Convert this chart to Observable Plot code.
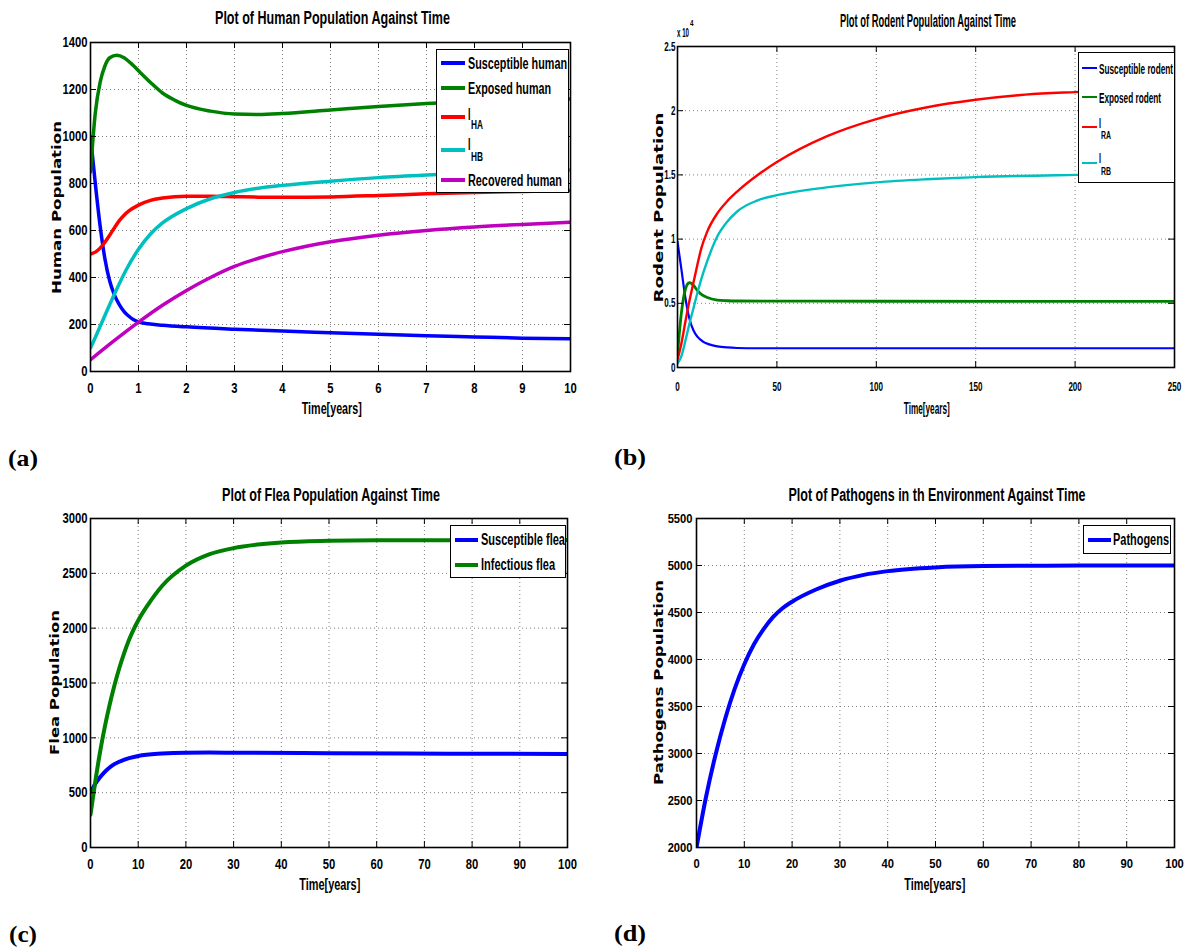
<!DOCTYPE html>
<html><head><meta charset="utf-8">
<script src="https://cdn.jsdelivr.net/npm/d3@7"></script>
<script src="https://cdn.jsdelivr.net/npm/@observablehq/plot@0.6"></script>
<style>
body{margin:0;background:#fff;}
#fig{position:relative;width:1186px;height:947px;overflow:hidden;background:#fff;}
.panel{position:absolute;}
.t{position:absolute;left:0;top:0;white-space:nowrap;line-height:1;color:#000;}
.lg{position:absolute;background:#fff;border:1px solid #000;box-sizing:border-box;}
.sw{position:absolute;}
</style></head><body><div id="fig"></div>
<script>
// ---------- (a) Human population, time in years ----------
const humanXTicks = [0,1,2,3,4,5,6,7,8,9,10];
const humanYTicks = [0,200,400,600,800,1000,1200,1400];
const susceptibleHuman = [[0,1000],[0.1,800],[0.2,620],[0.3,480],[0.4,385],[0.5,325],[0.6,285],[0.7,255],[0.8,235],[0.9,220],[1.0,211],[1.2,203],[1.5,197],[2,190],[3,180],[4,172],[5,165],[6,158],[7,152],[8,147],[9,142],[10,139]];
const exposedHuman = [[0,850],[0.1,1100],[0.2,1230],[0.3,1300],[0.4,1335],[0.55,1346],[0.7,1335],[0.85,1310],[1.0,1280],[1.25,1230],[1.5,1185],[1.75,1155],[2.0,1132],[2.5,1108],[3.0,1096],[3.5,1094],[4,1098],[5,1113],[6,1128],[7,1140],[8,1149],[9,1155],[10,1160]];
const iHA = [[0,500],[0.1,508],[0.2,525],[0.3,550],[0.4,580],[0.5,612],[0.6,642],[0.7,665],[0.8,683],[1.0,708],[1.25,728],[1.5,738],[2,746],[2.5,746],[3,744],[3.5,742],[4,741],[5,743],[6,749],[7,756],[8,762],[9,766],[10,770]];
const iHB = [[0,100],[0.1,145],[0.25,215],[0.5,330],[0.75,435],[1.0,520],[1.25,585],[1.5,632],[2,693],[2.5,735],[3,762],[3.5,780],[4,792],[5,810],[6,825],[7,836],[8,845],[9,851],[10,857]];
const recoveredHuman = [[0,50],[0.5,132],[1.0,210],[1.5,282],[2,345],[2.5,400],[3,447],[3.5,482],[4,510],[4.5,533],[5,552],[6,580],[7,600],[8,615],[9,626],[10,635]];

// ---------- (b) Rodent population ----------
const rodentXTicks = [0,50,100,150,200,250];
const rodentYTicks = [0,5000,10000,15000,20000,25000];
const susceptibleRodent = [[0,9800],[2,7600],[4,5400],[5,4500],[6,3800],[8,2900],[10,2400],[13,2000],[16,1800],[20,1650],[25,1560],[30,1520],[40,1500],[100,1500],[250,1500]];
const exposedRodent = [[0,1000],[1,2800],[2,4300],[3,5400],[4,6100],[5,6500],[6,6600],[7,6550],[8,6400],[10,6000],[12,5700],[15,5450],[20,5250],[25,5200],[30,5180],[100,5160],[250,5150]];
const iRA = [[0,600],[2,1900],[4,3600],[6,5200],[8,6600],[10,8000],[12,9300],[15,10600],[20,12000],[25,12950],[30,13700],[40,14950],[50,16000],[75,18000],[100,19350],[125,20250],[150,20850],[175,21250],[200,21450],[250,21700]];
const iRB = [[0,300],[2,900],[4,2100],[6,3400],[8,4600],[10,5800],[12,6900],[15,8300],[20,10200],[25,11350],[30,12150],[40,13000],[50,13420],[75,14030],[100,14420],[125,14660],[150,14830],[200,15000],[250,15100]];

// ---------- (c) Flea population ----------
const fleaXTicks = [0,10,20,30,40,50,60,70,80,90,100];
const fleaYTicks = [0,500,1000,1500,2000,2500,3000];
const susceptibleFlea = [[0,500],[1,580],[2,640],[3,690],[4,730],[5,760],[7,800],[10,835],[15,857],[20,865],[25,866],[30,864],[50,860],[75,856],[100,852]];
const infectiousFlea = [[0,300],[1,600],[2,870],[3,1100],[4,1300],[5,1475],[6,1630],[7,1765],[8,1885],[9,1985],[10,2070],[12,2210],[15,2385],[20,2570],[25,2675],[30,2730],[35,2762],[40,2782],[50,2797],[60,2802],[100,2803]];

// ---------- (d) Pathogens ----------
const pathXTicks = [0,10,20,30,40,50,60,70,80,90,100];
const pathYTicks = [2000,2500,3000,3500,4000,4500,5000,5500];
const pathogens = [[0,2000],[2,2540],[4,2990],[6,3370],[8,3690],[10,3950],[12,4160],[14,4320],[16,4450],[18,4545],[20,4615],[25,4745],[30,4838],[35,4900],[40,4940],[50,4980],[60,4994],[80,4999],[100,5000]];

const C = {blue:"#0000ff", green:"#008000", red:"#ff0000", cyan:"#00bfbf", magenta:"#bf00bf"};
const NARROW = '"Liberation Sans Narrow","Arial Narrow","Liberation Sans",Arial,sans-serif';
const WIDE = '"DejaVu Sans",Verdana,sans-serif';
const SERIF = '"Liberation Serif","Times New Roman",serif';
const fig = document.getElementById("fig");

function panel(o) {
  const pw = o.width - o.ml - o.mr, ph = o.height - o.mt - o.mb;
  const inner = a => a.slice(1, -1);
  const marks = [
    Plot.ruleX(inner(o.xTicks), {x: d => d, stroke: "#808080", strokeWidth: 1, strokeDasharray: "1,3"}),
    Plot.ruleY(inner(o.yTicks), {y: d => d, stroke: "#808080", strokeWidth: 1, strokeDasharray: "1,3"}),
    ...o.series.map(s => Plot.line(s.data, {x: d => d[0], y: d => d[1], stroke: s.color, strokeWidth: s.w, curve: "monotone-x", clip: true})),
    Plot.tickX(o.xTicks, {x: d => d, insetTop: ph - 6, stroke: "#000"}),
    Plot.tickX(o.xTicks, {x: d => d, insetBottom: ph - 6, stroke: "#000"}),
    Plot.tickY(o.yTicks, {y: d => d, insetRight: pw - 6, stroke: "#000"}),
    Plot.tickY(o.yTicks, {y: d => d, insetLeft: pw - 6, stroke: "#000"}),
    Plot.frame({stroke: "#000", strokeWidth: 1.6}),
    Plot.axisX({ticks: o.xTicks, tickSize: 0, tickPadding: o.xPad, label: null, fontSize: o.fs}),
    Plot.axisY({ticks: o.yTicks, tickSize: 0, tickPadding: o.yPad, label: null, fontSize: o.fs, tickFormat: o.yFormat || (d => String(d))})
  ];
  const svg = Plot.plot({
    width: o.width, height: o.height,
    marginLeft: o.ml, marginRight: o.mr, marginTop: o.mt, marginBottom: o.mb,
    x: {domain: o.xDomain}, y: {domain: o.yDomain},
    style: {fontFamily: NARROW, fontWeight: "bold", fontSize: o.fs + "px", color: "#000", background: "transparent", overflow: "visible"},
    marks
  });
  const d = document.createElement("div");
  d.className = "panel";
  d.style.left = o.left + "px"; d.style.top = o.top + "px";
  d.appendChild(svg);
  fig.appendChild(d);
  // condensed look of the original tick labels
  svg.querySelectorAll("text").forEach(t => {
    const L = t.getComputedTextLength();
    if (L > 0) {
      t.setAttribute("textLength", (L * o.sx).toFixed(2));
      t.setAttribute("lengthAdjust", "spacingAndGlyphs");
    }
  });
}

function txt(str, o) {
  const s = document.createElement("span");
  s.className = "t";
  s.style.font = `${o.weight || "bold"} ${o.size}px ${o.family || NARROW}`;
  s.textContent = str;
  fig.appendChild(s);
  const r = s.getBoundingClientRect();
  const nw = r.width, nh = r.height;
  const sc = o.w ? o.w / nw : 1;
  let left;
  const top = o.y - nh / 2;
  if (o.rotate) {
    left = o.x - nw / 2;
    s.style.transformOrigin = "50% 50%";
    s.style.transform = `rotate(-90deg) scaleX(${sc})`;
  } else if ((o.anchor || "middle") === "middle") {
    left = o.x - nw / 2;
    s.style.transformOrigin = "50% 50%";
    s.style.transform = `scaleX(${sc})`;
  } else {
    left = o.x;
    s.style.transformOrigin = "0 50%";
    s.style.transform = `scaleX(${sc})`;
  }
  s.style.left = left + "px";
  s.style.top = top + "px";
}

function legend(box, entries, o) {
  const b = document.createElement("div");
  b.className = "lg";
  Object.assign(b.style, {left: box[0] + "px", top: box[1] + "px", width: box[2] + "px", height: box[3] + "px"});
  fig.appendChild(b);
  for (const e of entries) {
    const sw = document.createElement("div");
    sw.className = "sw";
    Object.assign(sw.style, {left: o.x1 + "px", top: (e.ly - o.lw / 2) + "px", width: (o.x2 - o.x1) + "px", height: o.lw + "px", background: e.color});
    fig.appendChild(sw);
    if (e.sub) {
      txt(e.text, {x: o.tx, y: e.ty, size: o.size, anchor: "start", w: o.iw});
      txt(e.sub, {x: o.tx + o.subdx, y: e.sy, size: o.subsize, anchor: "start", w: e.sw});
    } else {
      txt(e.text, {x: o.tx, y: e.ty, size: o.size, anchor: "start", w: e.tw});
    }
  }
}

// ---------- panels ----------
panel({left: 0, top: 0, width: 593, height: 470, ml: 90, mr: 23, mt: 42, mb: 99,
  xDomain: [0, 10], yDomain: [0, 1400], xTicks: humanXTicks, yTicks: humanYTicks, fs: 15, sx: 0.75, xPad: 11, yPad: 3,
  series: [
    {data: susceptibleHuman, color: C.blue, w: 3.5},
    {data: exposedHuman, color: C.green, w: 3.5},
    {data: iHA, color: C.red, w: 3.5},
    {data: iHB, color: C.cyan, w: 3.5},
    {data: recoveredHuman, color: C.magenta, w: 3.5}
  ]});
panel({left: 593, top: 0, width: 593, height: 470, ml: 84, mr: 12, mt: 46, mb: 103,
  xDomain: [0, 250], yDomain: [0, 25000], xTicks: rodentXTicks, yTicks: rodentYTicks, fs: 13, sx: 0.62, xPad: 14, yPad: 2,
  yFormat: d => String(d / 10000),
  series: [
    {data: susceptibleRodent, color: C.blue, w: 2.2},
    {data: exposedRodent, color: C.green, w: 2.8},
    {data: iRA, color: C.red, w: 2.4},
    {data: iRB, color: C.cyan, w: 2.4}
  ]});
panel({left: 0, top: 470, width: 593, height: 477, ml: 90, mr: 26, mt: 48, mb: 100,
  xDomain: [0, 100], yDomain: [0, 3000], xTicks: fleaXTicks, yTicks: fleaYTicks, fs: 15, sx: 0.75, xPad: 11, yPad: 3,
  series: [
    {data: susceptibleFlea, color: C.blue, w: 4},
    {data: infectiousFlea, color: C.green, w: 4}
  ]});
panel({left: 593, top: 470, width: 593, height: 477, ml: 103, mr: 12, mt: 48, mb: 100,
  xDomain: [0, 100], yDomain: [2000, 5500], xTicks: pathXTicks, yTicks: pathYTicks, fs: 13, sx: 0.86, xPad: 11, yPad: 4,
  series: [
    {data: pathogens, color: C.blue, w: 4}
  ]});

// ---------- titles ----------
txt("Plot of Human Population Against Time", {x: 333, y: 18, size: 18, w: 235});
txt("Plot of Rodent Population Against Time", {x: 928, y: 21, size: 18, w: 176});
txt("Plot of Flea Population Against Time", {x: 331, y: 495, size: 18, w: 218});
txt("Plot of Pathogens in th Environment Against Time", {x: 937, y: 495, size: 18, w: 297});

// ---------- x labels ----------
txt("Time[years]", {x: 332, y: 409, size: 16, w: 60});
txt("Time[years]", {x: 927, y: 409, size: 16, w: 46});
txt("Time[years]", {x: 330, y: 885, size: 16, w: 61});
txt("Time[years]", {x: 935, y: 885, size: 16, w: 61});

// ---------- y labels ----------
txt("Human Population", {x: 57, y: 207, size: 13, family: WIDE, rotate: true, w: 173});
txt("Rodent Population", {x: 658, y: 207, size: 13, family: WIDE, rotate: true, w: 190});
txt("Flea Population", {x: 54, y: 682, size: 13, family: WIDE, rotate: true, w: 145});
txt("Pathogens Population", {x: 659, y: 682, size: 13, family: WIDE, rotate: true, w: 205});

// ---------- exponent ----------
txt("x 10", {x: 677, y: 33, size: 12, anchor: "start", w: 12});
txt("4", {x: 689.5, y: 23, size: 9, anchor: "start", w: 3.5});

// ---------- panel letters ----------
txt("(a)", {x: 8, y: 458, size: 24, family: SERIF, anchor: "start", w: 30});
txt("(b)", {x: 614, y: 457, size: 24, family: SERIF, anchor: "start", w: 32});
txt("(c)", {x: 9, y: 934, size: 24, family: SERIF, anchor: "start", w: 28});
txt("(d)", {x: 614, y: 933, size: 24, family: SERIF, anchor: "start", w: 32});

// ---------- legends ----------
legend([436, 49, 133, 144], [
  {color: C.blue, ly: 63, text: "Susceptible human", ty: 64, tw: 99},
  {color: C.green, ly: 88, text: "Exposed human", ty: 89, tw: 83},
  {color: C.red, ly: 117, text: "I", ty: 115, sub: "HA", sy: 125, sw: 12},
  {color: C.cyan, ly: 150, text: "I", ty: 145, sub: "HB", sy: 157, sw: 12},
  {color: C.magenta, ly: 180, text: "Recovered human", ty: 180.5, tw: 94}
], {x1: 441, x2: 465, tx: 468, lw: 3.5, size: 16, subsize: 12, subdx: 2.5, iw: 2.5});

legend([1078, 52, 97, 131], [
  {color: C.blue, ly: 68, text: "Susceptible rodent", ty: 68, tw: 74},
  {color: C.green, ly: 97, text: "Exposed rodent", ty: 97, tw: 62},
  {color: C.red, ly: 127, text: "I", ty: 122, sub: "RA", sy: 135, sw: 10},
  {color: C.cyan, ly: 163, text: "I", ty: 157, sub: "RB", sy: 171, sw: 10}
], {x1: 1082, x2: 1097, tx: 1099, lw: 2.5, size: 15, subsize: 11, subdx: 1.5, iw: 2});

legend([450, 525, 116, 53], [
  {color: C.blue, ly: 540, text: "Susceptible flea", ty: 540, tw: 84},
  {color: C.green, ly: 565, text: "Infectious flea", ty: 565, tw: 74}
], {x1: 455, x2: 478, tx: 481, lw: 4, size: 16});

legend([1083, 525, 88, 29], [
  {color: C.blue, ly: 540, text: "Pathogens", ty: 540, tw: 56}
], {x1: 1088, x2: 1111, tx: 1113, lw: 4, size: 16});
</script>
</body></html>
